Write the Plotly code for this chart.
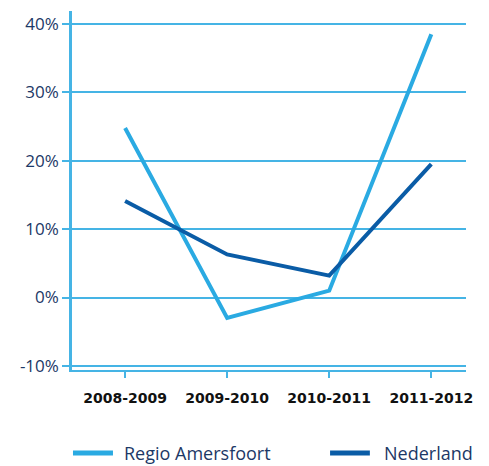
import plotly.graph_objects as go

periods = ["2008-2009", "2009-2010", "2010-2011", "2011-2012"]
regio_amersfoort = [24.8, -3.0, 1.0, 38.5]
nederland = [14.1, 6.3, 3.2, 19.5]
series_names = ["Regio Amersfoort", "Nederland"]
y_ticks = [-10, 0, 10, 20, 30, 40]
y_tick_labels = ["-10%", "0%", "10%", "20%", "30%", "40%"]

light_blue = "#2aaae2"
dark_blue = "#0a5ca6"
grid_blue = "#45b4e5"
navy = "#1c3866"

x_pos = list(range(len(periods)))

fig = go.Figure()
for name, values, color in zip(series_names, [regio_amersfoort, nederland],
                               [light_blue, dark_blue]):
    fig.add_trace(go.Scatter(
        x=x_pos, y=values, mode="lines", name=name,
        line=dict(color=color, width=4),
    ))

# Legend drawn below the plot area: a short line sample followed by the label
legend_y = -0.231
legend_items = [(0.0025, 0.104, 0.127), (0.655, 0.756, 0.787)]
for (x0, x1, xt), name, color in zip(legend_items, series_names,
                                     [light_blue, dark_blue]):
    fig.add_shape(type="line", xref="paper", yref="paper",
                  x0=x0, x1=x1, y0=legend_y, y1=legend_y,
                  line=dict(color=color, width=5))
    fig.add_annotation(xref="paper", yref="paper", x=xt, y=legend_y,
                       text=name, showarrow=False, xanchor="left", yanchor="middle",
                       font=dict(family="Open Sans", size=18, color=navy))

fig.update_layout(
    width=489, height=466,
    margin=dict(l=72, r=23, t=11, b=96),
    paper_bgcolor="white", plot_bgcolor="white",
    showlegend=False,
    xaxis=dict(
        range=[-0.52, 3.34],
        tickvals=x_pos, ticktext=periods,
        showgrid=False, zeroline=False,
        showline=True, linecolor=grid_blue, linewidth=2,
        ticks="outside", ticklen=6, tickcolor=grid_blue, tickwidth=1.5,
        ticklabelstandoff=8,
        tickfont=dict(family="DejaVu Sans", size=14, color="#111111", weight="bold"),
    ),
    yaxis=dict(
        range=[-10.6, 41.9],
        tickvals=y_ticks, ticktext=y_tick_labels,
        showgrid=True, gridcolor=grid_blue, gridwidth=1.5,
        zeroline=True, zerolinecolor=grid_blue, zerolinewidth=2,
        showline=True, linecolor=grid_blue, linewidth=2.5,
        ticks="outside", ticklen=7, tickcolor=grid_blue, tickwidth=1.5,
        tickfont=dict(family="Open Sans", size=17, color=navy),
    ),
)

fig.write_html("out.html")
